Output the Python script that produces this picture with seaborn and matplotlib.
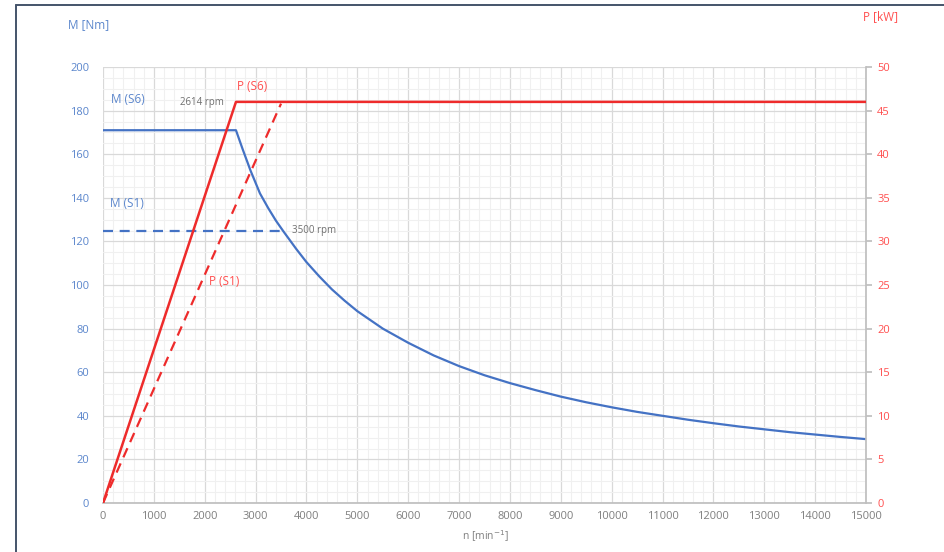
import matplotlib
matplotlib.use("Agg")
import matplotlib.pyplot as plt
import seaborn as sns
import pandas as pd
from matplotlib.ticker import MultipleLocator
from matplotlib.lines import Line2D

# ---- data ----
n_m_s6 = [0, 2614, 2750, 2900, 3086, 3250, 3400, 3550, 3800, 4000, 4250, 4500, 4750,
          5000, 5500, 6000, 6500, 7000, 7500, 8000, 8500, 9000, 9500, 10000, 10500,
          11000, 11500, 12000, 12500, 13000, 13500, 14000, 14500, 15000]
m_s6 = [171, 171, 162, 152.5, 142, 135.2, 129.5, 124.5, 116.5, 110.5, 104, 98, 92.8,
        88, 80, 73.5, 67.7, 62.8, 58.6, 55, 51.8, 48.8, 46.2, 43.9, 41.8,
        40.0, 38.2, 36.6, 35.1, 33.8, 32.5, 31.4, 30.3, 29.3]
n_m_s1 = [0, 3500]
m_s1 = [125, 125]
n_p_s6 = [0, 2614, 15000]
p_s6 = [0, 46, 46]
n_p_s1 = [0, 3500]
p_s1 = [0, 45.8]

x_ticks = list(range(0, 15001, 1000))
m_ticks = list(range(0, 201, 20))
p_ticks = list(range(0, 51, 5))

BLUE = "#4472C4"
RED = "#EE2B2B"
BLUE_TXT = "#5B86CC"
RED_TXT = "#FF4F4F"
GRAY_TXT = "#7F7F7F"

sns.set_theme(style="white")
plt.rcParams['font.family'] = ['Open Sans', 'DejaVu Sans']

fig = plt.figure(figsize=(9.44, 5.52), dpi=100)
ax = fig.add_axes([103/944, 1-503/552, 763/944, 436/552])
ax2 = ax.twinx()

df_ms6 = pd.DataFrame({"n": n_m_s6, "M": m_s6})
df_ms1 = pd.DataFrame({"n": n_m_s1, "M": m_s1})
df_ps6 = pd.DataFrame({"n": n_p_s6, "P": p_s6})
df_ps1 = pd.DataFrame({"n": n_p_s1, "P": p_s1})

sns.lineplot(data=df_ms6, x="n", y="M", ax=ax, color=BLUE, lw=1.6, sort=False, zorder=3)
sns.lineplot(data=df_ms1, x="n", y="M", ax=ax, color=BLUE, lw=1.6, ls=(0, (4.5, 3)), sort=False, zorder=3)
sns.lineplot(data=df_ps6, x="n", y="P", ax=ax2, color=RED, lw=1.8, sort=False, zorder=3)
sns.lineplot(data=df_ps1, x="n", y="P", ax=ax2, color=RED, lw=1.6, ls=(0, (4.5, 3)), sort=False, zorder=3)

ax.set_xlim(0, 15000)
ax.set_ylim(0, 200)
ax2.set_ylim(0, 50)

ax.set_xticks(x_ticks)
ax.set_yticks(m_ticks)
ax2.set_yticks(p_ticks)
ax.xaxis.set_minor_locator(MultipleLocator(200))
ax.yaxis.set_minor_locator(MultipleLocator(5))

ax.grid(which="major", color="#D9D9D9", lw=0.9, zorder=0)
ax.grid(which="minor", color="#F0F0F0", lw=0.8, zorder=0)
ax.set_axisbelow(True)
ax2.grid(False)

for sp in ["top", "left"]:
    ax.spines[sp].set_visible(False)
    ax2.spines[sp].set_visible(False)
ax.spines["bottom"].set_color("#BFBFBF")
ax2.spines["bottom"].set_visible(False)
ax2.spines["right"].set_color("#BFBFBF")
ax.spines["right"].set_visible(False)

ax.tick_params(axis="x", which="both", length=0, labelsize=8, labelcolor=GRAY_TXT, pad=6)
ax.tick_params(axis="y", which="both", length=0, labelsize=8, labelcolor=BLUE_TXT, pad=10)
ax2.tick_params(axis="y", which="major", length=4, color="#BFBFBF", labelsize=8,
                labelcolor=RED_TXT, pad=4, direction="out")
ax2.tick_params(axis="y", which="minor", length=0)

ax.set_xlabel("")
ax.set_ylabel("")
ax2.set_ylabel("")

# axis titles
fig.text(68/944, 1-25/552, "M [Nm]", color=BLUE_TXT, fontsize=8.5, ha="left", va="center")
fig.text(863/944, 1-17/552, "P [kW]", color=RED_TXT, fontsize=8.5, ha="left", va="center")
fig.text(485/944, 1-536/552, "n [min$^{-1}$]", color=GRAY_TXT, fontsize=7.5, ha="center", va="center")

# in-plot labels
ax.text(157, 185.3, "M (S6)", color=BLUE_TXT, fontsize=8.5, ha="left", va="center")
ax.text(138, 137.6, "M (S1)", color=BLUE_TXT, fontsize=8.5, ha="left", va="center")
ax.text(2630, 191, "P (S6)", color=RED_TXT, fontsize=8.5, ha="left", va="center")
ax.text(2084, 101.5, "P (S1)", color=RED_TXT, fontsize=8.5, ha="left", va="center")
ax.text(2379, 183.6, "2614 rpm", color="#6F6F6F", fontsize=7, ha="right", va="center")
ax.text(3709, 124.9, "3500 rpm", color="#6F6F6F", fontsize=7, ha="left", va="center")

# outer frame (cropped on the right and bottom)
fig.add_artist(Line2D([15.5/944, 15.5/944], [0, 1-5/552], transform=fig.transFigure,
                      color="#44546A", lw=1.4))
fig.add_artist(Line2D([15.5/944, 1], [1-5/552, 1-5/552], transform=fig.transFigure,
                      color="#44546A", lw=1.4))

fig.savefig("out.png", dpi=100, facecolor="white")
